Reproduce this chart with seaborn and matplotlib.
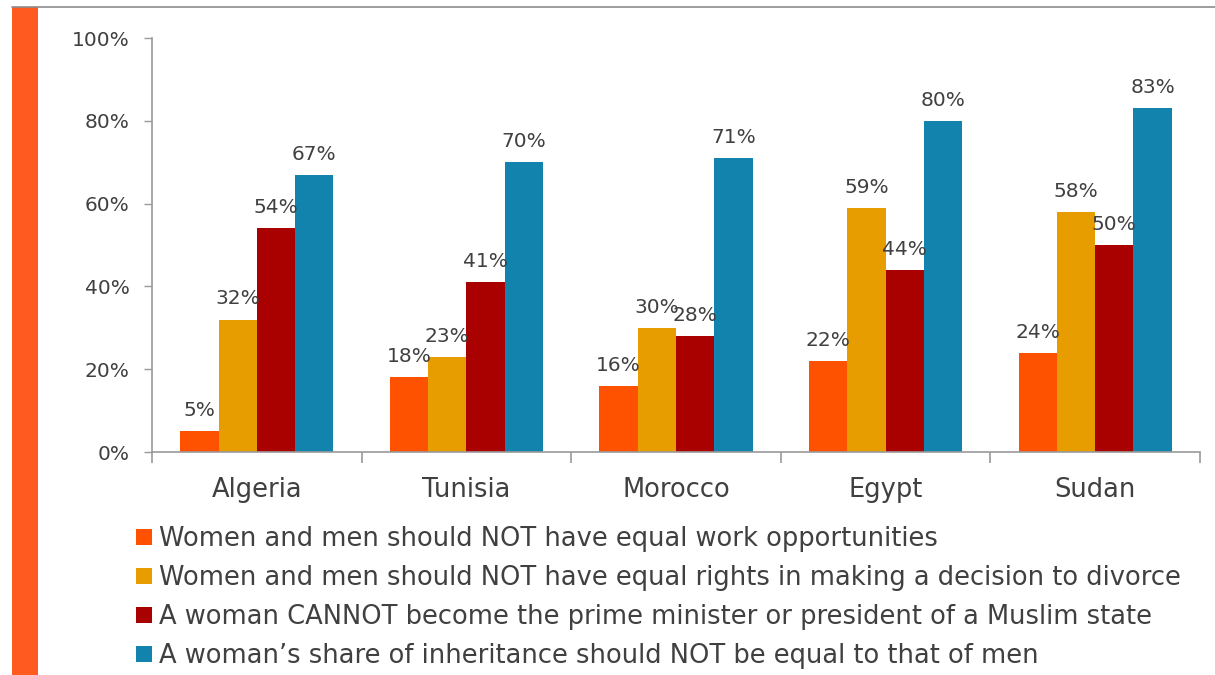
import matplotlib
matplotlib.use("Agg")
import matplotlib.pyplot as plt
from matplotlib.patches import Rectangle
from matplotlib.lines import Line2D
from matplotlib.ticker import FixedLocator, PercentFormatter
import seaborn as sns
import pandas as pd

# Survey results (share of respondents agreeing, in %)
countries = ["Algeria", "Tunisia", "Morocco", "Egypt", "Sudan"]
statements = [
    "Women and men should NOT have equal work opportunities",
    "Women and men should NOT have equal rights in making a decision to divorce",
    "A woman CANNOT become the prime minister or president of a Muslim state",
    "A woman\u2019s share of inheritance should NOT be equal to that of men",
]
work_opportunities = [5, 18, 16, 22, 24]
divorce_rights = [32, 23, 30, 59, 58]
head_of_state = [54, 41, 28, 44, 50]
inheritance = [67, 70, 71, 80, 83]
y_ticks = [0, 20, 40, 60, 80, 100]

colors = ["#FF5200", "#E79C00", "#A90000", "#1183AC"]
text_color = "#404040"
spine_color = "#9A9A9A"

rows = []
for statement, values in zip(statements, [work_opportunities, divorce_rights,
                                          head_of_state, inheritance]):
    for country, v in zip(countries, values):
        rows.append({"country": country, "statement": statement, "value": v})
df = pd.DataFrame(rows)

sns.set_theme(style="white")
plt.rcParams["font.family"] = ["DejaVu Sans"]

fig = plt.figure(figsize=(12.15, 6.75), dpi=100)
fig.patch.set_facecolor("white")

# decorative frame: top rule and orange side strip
fig.add_artist(Line2D([12 / 1215, 1], [1 - 7 / 675] * 2, color="#8C8C8C",
                      lw=1.2, transform=fig.transFigure))
fig.add_artist(Rectangle((12 / 1215, 0), 26 / 1215, 1 - 7 / 675,
                         transform=fig.transFigure, color="#FF5A1F", lw=0))

ax = fig.add_axes([152 / 1215, 1 - 452 / 675, (1200 - 152) / 1215,
                   (452 - 38) / 675])
ax.set_facecolor("none")

sns.barplot(data=df, x="country", y="value", hue="statement",
            order=countries, hue_order=statements, palette=colors,
            width=0.73, saturation=1, ax=ax, legend=False, errorbar=None,
            linewidth=0)

for container in ax.containers:
    ax.bar_label(container, labels=[f"{v:.0f}%" for v in container.datavalues],
                 padding=8, fontsize=14.5, color=text_color)

ax.set_ylim(0, 100)
ax.set_xlim(-0.5, len(countries) - 0.5)
ax.yaxis.set_major_locator(FixedLocator(y_ticks))
ax.yaxis.set_major_formatter(PercentFormatter(decimals=0))
ax.tick_params(axis="y", labelsize=14.5, labelcolor=text_color, length=6,
               width=1, color=spine_color, left=True, direction="out", pad=10)
ax.tick_params(axis="x", which="major", length=0, labelsize=18.5,
               labelcolor=text_color, pad=18)
ax.xaxis.set_minor_locator(FixedLocator([i - 0.5 for i in range(len(countries) + 1)]))
ax.tick_params(axis="x", which="minor", length=8, width=1.2, color=spine_color,
               bottom=True, direction="out")
ax.set_xlabel("")
ax.set_ylabel("")
for side in ["top", "right"]:
    ax.spines[side].set_visible(False)
for side in ["left", "bottom"]:
    ax.spines[side].set_color(spine_color)
    ax.spines[side].set_linewidth(1.2)

handles = [Rectangle((0, 0), 1, 1, color=c, lw=0) for c in colors]
fig.legend(handles, statements, loc="upper left",
           bbox_to_anchor=(126 / 1215, 1 - 516 / 675), frameon=False,
           fontsize=18.5, labelcolor=text_color, handlelength=0.6,
           handleheight=0.6, handletextpad=0.3, labelspacing=0.5,
           borderaxespad=0)

fig.savefig("out.png", dpi=100, facecolor="white")
